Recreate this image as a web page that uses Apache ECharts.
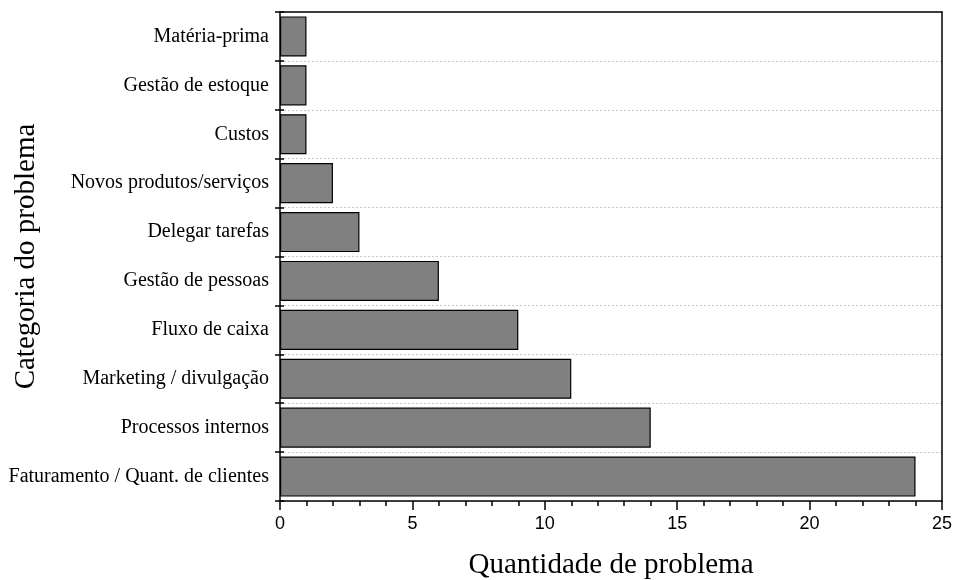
<!DOCTYPE html>
<html><head><meta charset="utf-8">
<script src="https://cdn.jsdelivr.net/npm/echarts@6/dist/echarts.min.js"></script>
<style>html,body{margin:0;padding:0;background:#fff}#c{width:955px;height:580px}</style>
</head><body><div id="c"></div>
<script>
const categories = ["Faturamento / Quant. de clientes","Processos internos","Marketing / divulgação","Fluxo de caixa","Gestão de pessoas","Delegar tarefas","Novos produtos/serviços","Custos","Gestão de estoque","Matéria-prima"];
const values = [24,14,11,9,6,3,2,1,1,1];
const xTicks = [0,5,10,15,20,25];

const chart = echarts.init(document.getElementById('c'));
chart.setOption({
  animation:false,
  backgroundColor:'#fff',
  grid:{left:280,right:13,top:12,bottom:79,containLabel:false,outerBoundsMode:'none'},
  xAxis:[{
    type:'value',min:xTicks[0],max:xTicks[xTicks.length-1],interval:5,
    axisLine:{show:true,lineStyle:{color:'#000',width:1.5}},
    axisTick:{show:true,length:9,lineStyle:{color:'#000',width:1.5}},
    minorTick:{show:true,splitNumber:5,length:5,lineStyle:{color:'#000',width:1.5}},
    splitLine:{show:false},
    axisLabel:{color:'#000',fontFamily:'Liberation Sans',fontSize:18,margin:14},
    name:'Quantidade de problema',nameLocation:'middle',nameGap:50,nameMoveOverlap:false,
    nameTextStyle:{color:'#000',fontFamily:'Liberation Serif',fontSize:29}
  },{
    type:'value',position:'top',min:0,max:25,
    axisLine:{show:true,lineStyle:{color:'#000',width:1.5}},
    axisTick:{show:false},axisLabel:{show:false},splitLine:{show:false}
  }],
  yAxis:[{
    type:'category',data:categories,
    axisLine:{show:true,lineStyle:{color:'#000',width:1.5}},
    axisTick:{show:true,length:5,lineStyle:{color:'#000',width:1.5}},
    splitLine:{show:true,lineStyle:{color:'#c8c8c8',type:[2,2],width:1}},
    axisLabel:{color:'#000',fontFamily:'Liberation Serif',fontSize:20,margin:11},
    name:'Categoria do problema',nameLocation:'middle',nameGap:239,nameRotate:90,nameMoveOverlap:false,
    nameTextStyle:{color:'#000',fontFamily:'Liberation Serif',fontSize:29}
  },{
    type:'category',data:categories,position:'left',offset:0,
    axisLine:{show:false},
    axisTick:{show:true,inside:true,length:4,lineStyle:{color:'#000',width:1.5}},
    axisLabel:{show:false},splitLine:{show:false}
  },{
    type:'category',data:categories,position:'right',offset:0,
    axisLine:{show:true,lineStyle:{color:'#000',width:1.5}},
    axisTick:{show:false},axisLabel:{show:false},splitLine:{show:false}
  }],
  series:[{
    type:'bar',data:values,barWidth:'82%',
    itemStyle:{color:'#808080',borderColor:'#000',borderWidth:1.2}
  }]
});
</script></body></html>
